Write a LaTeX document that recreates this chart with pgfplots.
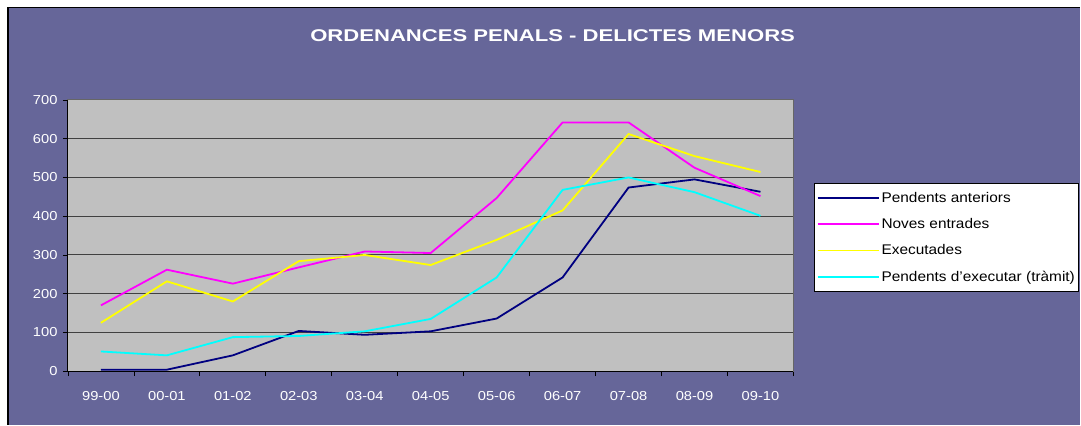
\documentclass[border=0pt]{standalone}
\usepackage{pgfplots}
\pgfplotsset{compat=1.18}
\usepackage{fontspec}
\setmainfont{Liberation Sans}
\newfontfamily\titlefont[FakeStretch=1.3]{Liberation Sans}
\newfontfamily\tickfont[FakeStretch=1.13]{Liberation Sans}
\newfontfamily\legfont[FakeStretch=1.1]{Liberation Sans}
\definecolor{bgpurple}{HTML}{666699}
\definecolor{plotgray}{HTML}{C0C0C0}
\definecolor{navyc}{HTML}{000080}
\definecolor{magc}{HTML}{FF00FF}
\definecolor{yelc}{HTML}{FFFF00}
\definecolor{cyac}{HTML}{00FFFF}
\begin{document}
\begin{tikzpicture}
\fill[white] (0pt,0pt) rectangle (1081pt,425pt);
\fill[bgpurple] (8pt,0pt) rectangle (1081pt,417.5pt);
\draw[black,line width=1.5pt] (8pt,0pt) -- (8pt,417.5pt) -- (1081pt,417.5pt);
\node[text=white,font=\titlefont\bfseries\fontsize{17}{20}\selectfont] at (553pt,389pt) {ORDENANCES PENALS - DELICTES MENORS};
\begin{axis}[
  at={(68pt,53.5pt)}, anchor=south west,
  scale only axis, width=726pt, height=271.5pt,
  xmin=-0.5, xmax=10.5, ymin=0, ymax=700,
  axis background/.style={fill=plotgray},
  axis line style={draw=gray!80!black, line width=1pt},
  xtick={-0.5,0.5,...,10.5}, xticklabels={},
  extra x ticks={0,1,...,10},
  extra x tick labels={99-00,00-01,01-02,02-03,03-04,04-05,05-06,06-07,07-08,08-09,09-10},
  extra x tick style={major tick length=0pt, grid=none},
  ytick={0,100,...,700},
  xtick pos=bottom, ytick pos=left,
  tick align=outside, major tick length=5pt,
  tick style={black, line width=0.8pt},
  ymajorgrids, major grid style={draw=black!75, line width=1pt},
  xticklabel style={text=white, font=\tickfont\fontsize{13}{15}\selectfont, yshift=-17pt},
  yticklabel style={text=white, font=\tickfont\fontsize{13}{15}\selectfont, xshift=-2pt},
  /pgf/number format/assume math mode=true,
  legend style={at={(1.0289,0.694)}, anchor=north west, fill=white, draw=black, line width=0.8pt,
    font=\legfont\fontsize{14}{16}\selectfont, cells={anchor=west}, row sep=10.5pt, inner xsep=2pt, inner ysep=7pt},
  legend image code/.code={\path (0pt,0pt) -- (61pt,0pt); \draw[#1,line width=1.8pt] (7pt,0pt) -- (59pt,0pt);},
  every axis plot/.append style={line width=1.8pt},
  clip=false,
  after end axis/.code={
    \draw[black,line width=1pt] (rel axis cs:0,1) -- (rel axis cs:0,0) -- (rel axis cs:1,0);
  },
]
\addplot[navyc] coordinates {(0,4) (1,4) (2,41) (3,104) (4,94) (5,103) (6,136) (7,242) (8,474) (9,495) (10,463)};
\addlegendentry{Pendents anteriors}
\addplot[magc] coordinates {(0,170) (1,262) (2,226) (3,268) (4,309) (5,305) (6,447) (7,642) (8,642) (9,525) (10,452)};
\addlegendentry{Noves entrades}
\addplot[yelc] coordinates {(0,125) (1,232) (2,180) (3,284) (4,300) (5,274) (6,339) (7,415) (8,612) (9,555) (10,514)};
\addlegendentry{Executades}
\addplot[cyac] coordinates {(0,51) (1,41) (2,88) (3,91) (4,103) (5,135) (6,242) (7,468) (8,500) (9,462) (10,401)};
\addlegendentry{Pendents d’executar (tràmit)}
\end{axis}
\end{tikzpicture}
\end{document}
